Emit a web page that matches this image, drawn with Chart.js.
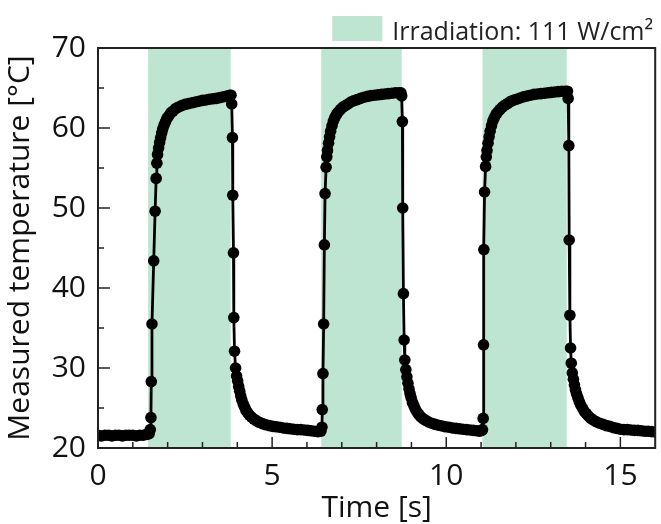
<!DOCTYPE html>
<html>
<head>
<meta charset="utf-8">
<script src="https://cdn.jsdelivr.net/npm/chart.js@4"></script>
<style>
  html, body { margin: 0; padding: 0; background: #fff; }
  #wrap { width: 661px; height: 524px; }
</style>
</head>
<body>
<div id="wrap"><canvas id="tempChart" width="661" height="524"></canvas></div>
<script>
// measured temperature as [time (s), temperature (°C)]
const cycle1 = [
    [0, 21.6], [0.1, 21.5], [0.2, 21.6], [0.3, 21.6], [0.4, 21.5], [0.5, 21.6], [0.6, 21.6], [0.7, 21.5],
    [0.8, 21.6], [0.9, 21.6], [1.0, 21.6], [1.1, 21.5], [1.2, 21.6], [1.3, 21.6], [1.4, 21.7], [1.47, 21.8],
    [1.50, 22.3], [1.52, 23.8], [1.53, 28.3], [1.55, 35.5], [1.60, 43.4], [1.64, 49.6], [1.67, 53.7], [1.69, 55.6],
    [1.71, 56.7], [1.74, 57.5], [1.77, 58.2], [1.80, 58.8], [1.83, 59.4], [1.86, 59.9], [1.90, 60.4], [1.94, 60.8],
    [1.98, 61.2], [2.03, 61.5], [2.09, 61.9], [2.15, 62.1], [2.22, 62.4], [2.30, 62.6], [2.40, 62.8], [2.50, 62.95],
    [2.60, 63.05], [2.70, 63.15], [2.80, 63.25], [2.90, 63.35], [3.00, 63.45], [3.10, 63.5], [3.20, 63.6], [3.30, 63.65],
    [3.40, 63.7], [3.50, 63.8], [3.60, 63.9], [3.70, 64.0], [3.78, 64.1],
    [3.82, 64.1], [3.84, 63.0], [3.86, 58.8], [3.87, 51.6], [3.89, 44.4], [3.90, 36.3], [3.92, 32.1], [3.95, 30.0],
    [3.98, 29.0], [4.01, 28.4], [4.04, 27.7], [4.07, 27.1], [4.10, 26.5], [4.13, 26.0], [4.17, 25.5], [4.21, 25.1],
    [4.25, 24.7], [4.30, 24.4], [4.35, 24.1], [4.41, 23.85], [4.48, 23.6], [4.55, 23.4], [4.63, 23.2], [4.72, 23.05],
    [4.82, 22.9], [4.92, 22.8], [5.02, 22.7], [5.12, 22.65], [5.22, 22.6], [5.32, 22.5], [5.42, 22.45], [5.52, 22.4],
    [5.62, 22.35], [5.72, 22.3], [5.82, 22.3], [5.92, 22.25], [6.02, 22.2], [6.12, 22.15], [6.22, 22.1], [6.32, 22.05],
    [6.40, 22.1]
];
const cycle2 = [
    [6.43, 22.6], [6.44, 24.8], [6.46, 29.3], [6.48, 35.5], [6.50, 45.4], [6.52, 51.8], [6.55, 55.1], [6.57, 56.4],
    [6.59, 57.2], [6.62, 58.1], [6.65, 58.9], [6.68, 59.6], [6.72, 60.3], [6.76, 60.9], [6.80, 61.3], [6.85, 61.7],
    [6.90, 62.0], [6.96, 62.3], [7.03, 62.6], [7.10, 62.8], [7.18, 63.0], [7.26, 63.25], [7.34, 63.4], [7.44, 63.55],
    [7.54, 63.7], [7.64, 63.85], [7.74, 63.95], [7.84, 64.05], [7.94, 64.1], [8.04, 64.15], [8.14, 64.2], [8.24, 64.25],
    [8.34, 64.3], [8.44, 64.35], [8.54, 64.4], [8.64, 64.4], [8.70, 64.4],
    [8.72, 64.0], [8.74, 60.8], [8.75, 50.0], [8.77, 39.3], [8.79, 33.5], [8.81, 31.0], [8.84, 29.8],
    [8.87, 28.9], [8.90, 28.1], [8.93, 27.4], [8.96, 26.8], [8.99, 26.3], [9.03, 25.7], [9.07, 25.3], [9.11, 24.9],
    [9.16, 24.5], [9.21, 24.2], [9.27, 23.9], [9.34, 23.65], [9.41, 23.45], [9.49, 23.25], [9.58, 23.1], [9.68, 22.95],
    [9.78, 22.85], [9.88, 22.75], [9.98, 22.65], [10.08, 22.6], [10.18, 22.5], [10.28, 22.45], [10.38, 22.4], [10.48, 22.35],
    [10.58, 22.3], [10.68, 22.25], [10.78, 22.2], [10.88, 22.15], [10.96, 22.1], [11.02, 22.2]
];
const cycle3 = [
    [11.04, 22.3], [11.06, 23.7], [11.07, 32.9], [11.08, 44.8], [11.10, 52.0], [11.13, 55.2], [11.15, 56.4],
    [11.17, 57.2], [11.20, 58.1], [11.23, 58.9], [11.26, 59.6], [11.30, 60.3], [11.34, 60.9], [11.38, 61.3], [11.43, 61.7],
    [11.48, 62.0], [11.54, 62.3], [11.61, 62.6], [11.68, 62.85], [11.76, 63.05], [11.84, 63.3], [11.92, 63.45], [12.02, 63.6],
    [12.12, 63.75], [12.22, 63.9], [12.32, 64.0], [12.42, 64.1], [12.52, 64.2], [12.62, 64.25], [12.72, 64.3], [12.82, 64.35],
    [12.92, 64.4], [13.02, 64.45], [13.12, 64.5], [13.22, 64.55], [13.32, 64.6], [13.42, 64.6], [13.48, 64.6],
    [13.50, 63.7], [13.52, 57.8], [13.53, 46.0], [13.55, 36.6], [13.57, 32.5], [13.59, 30.6], [13.62, 29.4],
    [13.65, 28.6], [13.68, 27.9], [13.71, 27.3], [13.74, 26.8], [13.78, 26.3], [13.82, 25.8], [13.86, 25.4], [13.91, 25.0],
    [13.96, 24.6], [14.02, 24.3], [14.08, 24.0], [14.15, 23.7], [14.22, 23.5], [14.30, 23.3], [14.40, 23.1], [14.50, 22.95],
    [14.60, 22.8], [14.70, 22.7], [14.80, 22.55], [14.90, 22.45], [15.00, 22.35], [15.10, 22.3], [15.20, 22.3], [15.30, 22.25],
    [15.40, 22.2], [15.50, 22.2], [15.60, 22.15], [15.70, 22.1], [15.80, 22.1], [15.90, 22.05], [16.00, 22.0]
];

// irradiation windows (s)
const irradStart = [1.44, 6.41, 11.04];
const irradEnd = [3.81, 8.72, 13.46];
const irradLabel = 'Irradiation: 111 W/cm²';

// labelled ticks
const xTickValues = [0, 5, 10, 15];
const yTickValues = [20, 30, 40, 50, 60, 70];

const bandColor = '#bee4d2';
const fontFamily = "'Open Sans', sans-serif";

// green shading for the irradiation periods
const bandsPlugin = {
    id: 'bands',
    beforeDatasetsDraw(chart) {
        const { ctx, chartArea, scales: { x } } = chart;
        ctx.save();
        ctx.fillStyle = bandColor;
        irradStart.forEach((s, i) => {
            const x0 = x.getPixelForValue(s);
            const x1 = x.getPixelForValue(irradEnd[i]);
            ctx.fillRect(x0, chartArea.top, x1 - x0, chartArea.bottom - chartArea.top);
        });
        ctx.restore();
    }
};

// box frame, inward major/minor ticks and the legend entry
const frameTicksPlugin = {
    id: 'frameTicks',
    afterDatasetsDraw(chart) {
        const { ctx, chartArea: a, scales: { x, y } } = chart;
        ctx.save();
        ctx.strokeStyle = '#222';
        ctx.lineWidth = 1.5;
        ctx.beginPath();
        for (let v = x.min + 1; v < x.max; v++) {
            const px = x.getPixelForValue(v);
            const len = v % 5 === 0 ? 11 : 6;
            ctx.moveTo(px, a.bottom);
            ctx.lineTo(px, a.bottom - len);
        }
        for (let v = y.min + 5; v < y.max; v += 5) {
            const py = y.getPixelForValue(v);
            const len = v % 10 === 0 ? 12 : 6;
            ctx.moveTo(a.left, py);
            ctx.lineTo(a.left + len, py);
        }
        ctx.stroke();
        ctx.lineWidth = 2;
        ctx.strokeRect(a.left, a.top, a.right - a.left, a.bottom - a.top);

        // legend
        ctx.font = `25px ${fontFamily}`;
        ctx.textBaseline = 'alphabetic';
        ctx.textAlign = 'right';
        ctx.fillStyle = '#222';
        const textRight = a.right - 2;
        const w = ctx.measureText(irradLabel).width;
        ctx.fillText(irradLabel, textRight, 40);
        ctx.fillStyle = bandColor;
        ctx.fillRect(textRight - w - 60, 16, 50, 25);
        ctx.restore();
    }
};

const points = [...cycle1, ...cycle2, ...cycle3].map(([t, T]) => ({ x: t, y: T }));

new Chart(document.getElementById('tempChart').getContext('2d'), {
    type: 'line',
    data: {
        datasets: [{
            label: 'Measured temperature',
            data: points,
            borderColor: '#000',
            backgroundColor: '#000',
            borderWidth: 2.8,
            pointRadius: 5.8,
            pointBorderWidth: 0,
            tension: 0
        }]
    },
    options: {
        responsive: false,
        animation: false,
        layout: { padding: { top: 48, right: 4, left: 0, bottom: 0 } },
        plugins: {
            legend: { display: false },
            tooltip: { enabled: false }
        },
        scales: {
            x: {
                type: 'linear',
                min: 0,
                max: 16,
                grid: { display: false },
                border: { display: false },
                afterBuildTicks(scale) { scale.ticks = xTickValues.map(v => ({ value: v })); },
                ticks: {
                    autoSkip: false,
                    color: '#111',
                    font: { family: fontFamily, size: 30 },
                    padding: 2,
                    maxRotation: 0
                },
                title: {
                    display: true,
                    text: 'Time [s]',
                    color: '#111',
                    font: { family: fontFamily, size: 30 },
                    padding: { top: 0, bottom: -2 }
                },
                afterFit(scale) { scale.height = 76; }
            },
            y: {
                min: 20,
                max: 70,
                grid: { display: false },
                border: { display: false },
                afterBuildTicks(scale) { scale.ticks = yTickValues.map(v => ({ value: v })); },
                ticks: {
                    autoSkip: false,
                    color: '#111',
                    font: { family: fontFamily, size: 30 },
                    padding: 4
                },
                title: {
                    display: true,
                    text: 'Measured temperature [°C]',
                    color: '#111',
                    font: { family: fontFamily, size: 30 },
                    padding: { top: 2, bottom: 0 }
                },
                afterFit(scale) { scale.width = 98; }
            }
        }
    },
    plugins: [bandsPlugin, frameTicksPlugin]
});
</script>
</body>
</html>
